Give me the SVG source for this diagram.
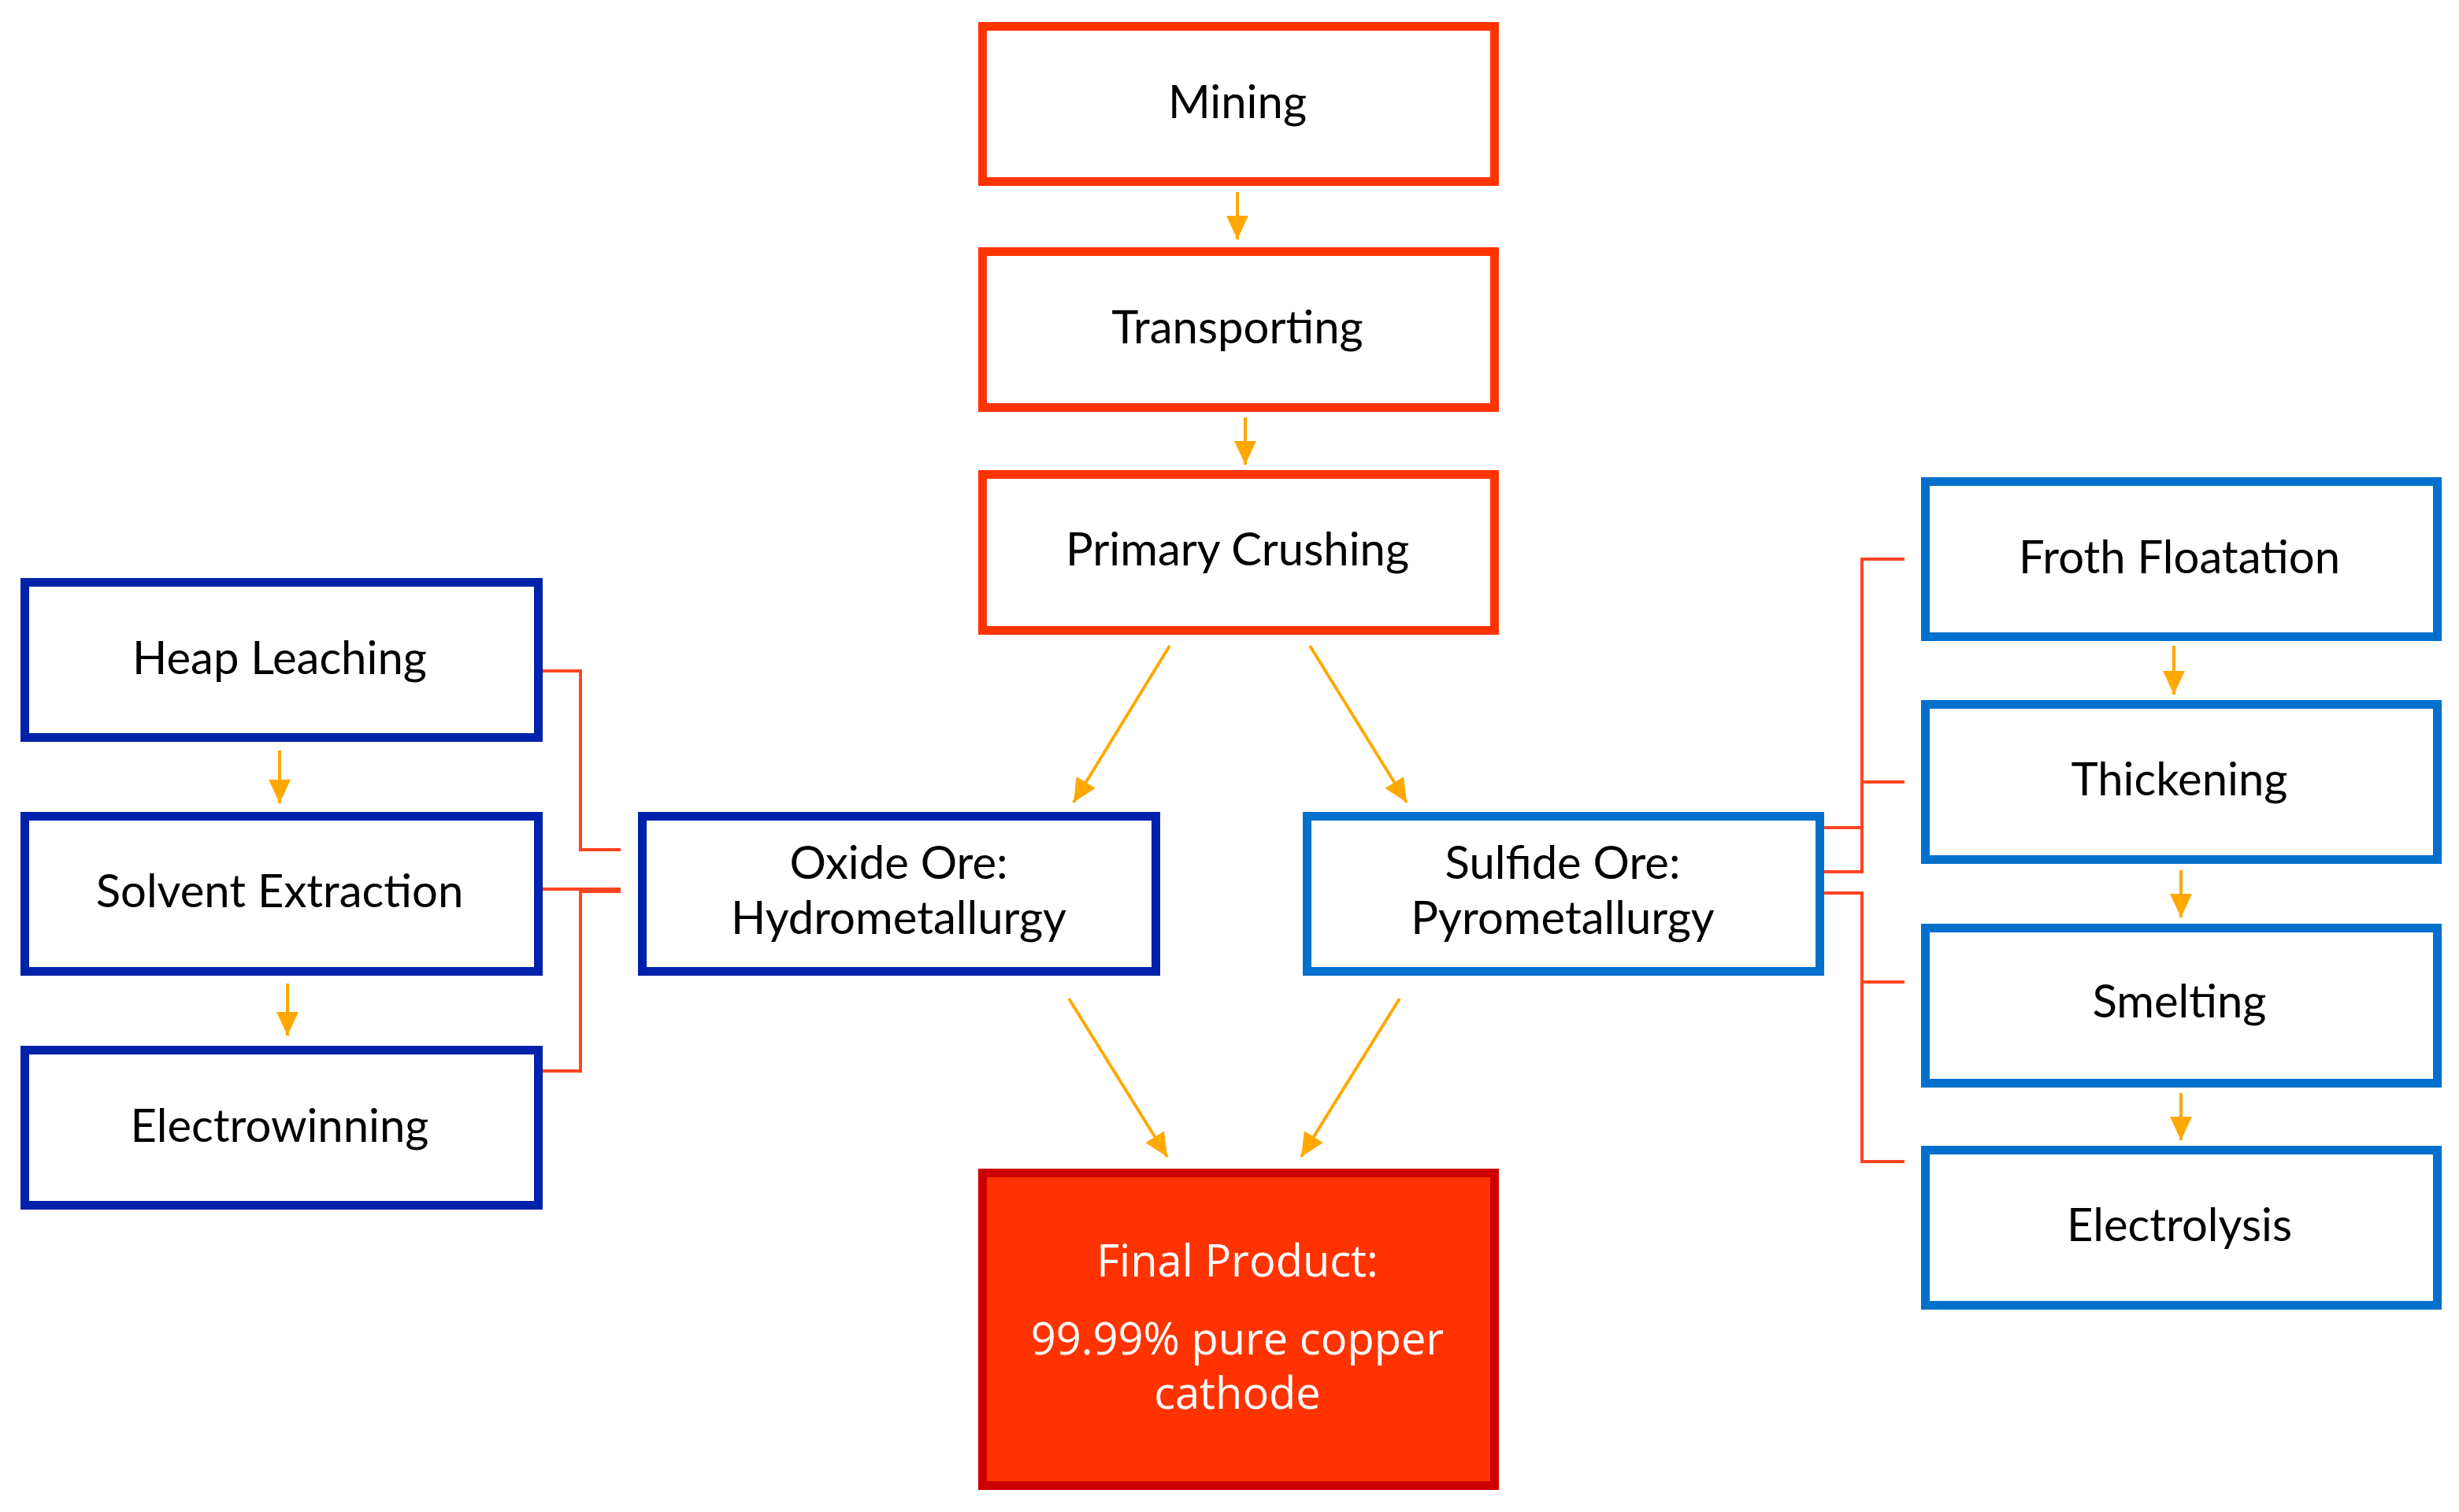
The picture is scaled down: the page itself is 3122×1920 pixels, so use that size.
<svg xmlns="http://www.w3.org/2000/svg" width="3122" height="1920" viewBox="0 0 3122 1920">
<style>
.box{fill:#ffffff;stroke-width:11}
.red{stroke:#ff3300}
.dblue{stroke:#0022aa}
.lblue{stroke:#0070cc}
.fin{fill:#ff3300;stroke:#cc0000;stroke-width:11}
.lbl{font-family:Lato,"Open Sans","Liberation Sans",sans-serif;font-size:58px;fill:#000000;text-anchor:middle}
.wlbl{font-family:"Open Sans","Noto Sans","Liberation Sans",sans-serif;font-size:56px;fill:#ffffff;text-anchor:middle}
.arr{stroke:#ffa800;stroke-width:4;fill:none;marker-end:url(#ah)}
.con{stroke:#ff4422;stroke-width:4;fill:none}
</style>
<defs>
<marker id="ah" viewBox="0 0 30 28" refX="30" refY="14" markerWidth="30" markerHeight="28" markerUnits="userSpaceOnUse" orient="auto">
<path d="M0,0 L30,14 L0,28 z" fill="#ffa800"/>
</marker>
</defs>
<rect width="3122" height="1920" fill="#ffffff"/>
<g id="connectors">
<line class="arr" x1="1571" y1="244" x2="1571" y2="304"/>
<line class="arr" x1="1581" y1="530" x2="1581" y2="590"/>
<line class="arr" x1="355" y1="953" x2="355" y2="1020"/>
<line class="arr" x1="365" y1="1249" x2="365" y2="1315"/>
<line class="arr" x1="2760" y1="820" x2="2760" y2="882"/>
<line class="arr" x1="2769" y1="1105" x2="2769" y2="1165"/>
<line class="arr" x1="2769" y1="1388" x2="2769" y2="1448"/>
<line class="arr" x1="1485" y1="820" x2="1363" y2="1019"/>
<line class="arr" x1="1663" y1="820" x2="1786" y2="1019"/>
<line class="arr" x1="1357" y1="1268" x2="1482" y2="1469"/>
<line class="arr" x1="1777" y1="1268" x2="1652" y2="1469"/>
<polyline class="con" points="689,852 737,852 737,1079 788,1079"/>
<line class="con" x1="689" y1="1129" x2="788" y2="1129"/>
<polyline class="con" points="689,1360 737,1360 737,1132 788,1132"/>
<polyline class="con" points="2418,710 2364,710 2364,1107 2316,1107"/>
<line class="con" x1="2316" y1="1051" x2="2364" y2="1051"/>
<line class="con" x1="2364" y1="993" x2="2418" y2="993"/>
<polyline class="con" points="2316,1134 2364,1134 2364,1475 2418,1475"/>
<line class="con" x1="2364" y1="1247" x2="2418" y2="1247"/>
</g>
<g id="mining"><rect class="box red" x="1247.5" y="33.5" width="650" height="197"/><text class="lbl" x="1571" y="150">Mining</text></g>
<g id="transporting"><rect class="box red" x="1247.5" y="319.5" width="650" height="198"/><text class="lbl" x="1571" y="436">Transporting</text></g>
<g id="primary-crushing"><rect class="box red" x="1247.5" y="602.5" width="650" height="198"/><text class="lbl" x="1571" y="718">Primary Crushing</text></g>
<g id="heap-leaching"><rect class="box dblue" x="31.5" y="739.5" width="652" height="197"/><text class="lbl" x="355" y="856">Heap Leaching</text></g>
<g id="solvent-extraction"><rect class="box dblue" x="31.5" y="1036.5" width="652" height="197"/><text class="lbl" x="355" y="1152">Solvent Extraction</text></g>
<g id="electrowinning"><rect class="box dblue" x="31.5" y="1333.5" width="652" height="197"/><text class="lbl" x="355" y="1450">Electrowinning</text></g>
<g id="oxide-ore"><rect class="box dblue" x="815.5" y="1036.5" width="652" height="197"/><text class="lbl" x="1141" y="1116">Oxide Ore:</text><text class="lbl" x="1141" y="1186">Hydrometallurgy</text></g>
<g id="sulfide-ore"><rect class="box lblue" x="1659.5" y="1036.5" width="651" height="197"/><text class="lbl" x="1984" y="1116">Sulfide Ore:</text><text class="lbl" x="1984" y="1186">Pyrometallurgy</text></g>
<g id="froth-floatation"><rect class="box lblue" x="2444.5" y="611.5" width="650" height="197"/><text class="lbl" x="2767" y="728">Froth Floatation</text></g>
<g id="thickening"><rect class="box lblue" x="2444.5" y="894.5" width="650" height="197"/><text class="lbl" x="2767" y="1010">Thickening</text></g>
<g id="smelting"><rect class="box lblue" x="2444.5" y="1178.5" width="650" height="197"/><text class="lbl" x="2767" y="1292">Smelting</text></g>
<g id="electrolysis"><rect class="box lblue" x="2444.5" y="1460.5" width="650" height="197"/><text class="lbl" x="2767" y="1576">Electrolysis</text></g>
<g id="final-product"><rect class="fin" x="1247.5" y="1489.5" width="650" height="397"/><text class="wlbl" x="1571" y="1621">Final Product:</text><text class="wlbl" x="1571" y="1720">99.99% pure copper</text><text class="wlbl" x="1571" y="1789">cathode</text></g>
</svg>
